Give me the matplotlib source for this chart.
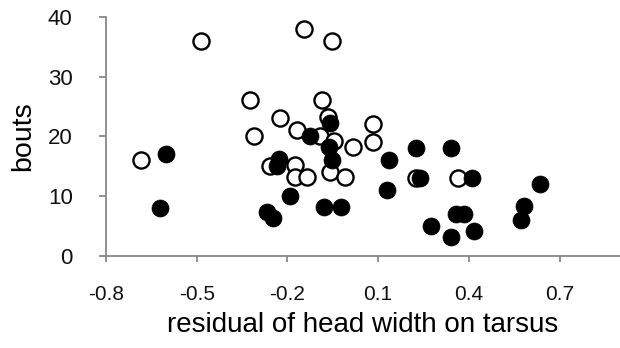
import matplotlib
matplotlib.use("Agg")
import matplotlib.pyplot as plt

plt.rcParams['font.family'] = ['Liberation Sans', 'DejaVu Sans']

# open circles
open_x = [-0.683, -0.485, -0.323, -0.31, -0.224, -0.257, -0.174, -0.174, -0.167, -0.144,
          -0.135, -0.086, -0.066, -0.091, -0.052, -0.045, -0.058, -0.011, 0.016, 0.082,
          0.082, 0.225, 0.363]
open_y = [16, 36, 26, 20, 23, 15, 15.2, 13.2, 21, 38,
          13.2, 26, 23.3, 20, 36, 19.2, 14, 13.2, 18.2, 22,
          19.1, 13, 13]

# filled circles
filled_x = [-0.62, -0.6, -0.268, -0.248, -0.235, -0.227, -0.19, -0.125, -0.078, -0.058,
            -0.062, -0.053, -0.022, 0.13, 0.135, 0.226, 0.238, 0.275, 0.34, 0.34,
            0.356, 0.383, 0.41, 0.418, 0.571, 0.582, 0.635]
filled_y = [8, 17, 7.3, 6.4, 15, 16.2, 10, 20, 8.2, 22.2,
            18.2, 16, 8.2, 11, 16, 18, 13, 5, 18, 3.2,
            7.1, 7.1, 13, 4.2, 6, 8.3, 12]

xticks = [-0.8, -0.5, -0.2, 0.1, 0.4, 0.7]
yticks = [0, 10, 20, 30, 40]

fig = plt.figure(figsize=(6.2, 3.48), dpi=100)
ax = fig.add_axes([0.171, 0.2644, 0.829, 0.6876])

ax.scatter(open_x, open_y, s=135, facecolors='white', edgecolors='black', linewidths=1.7, zorder=3)
ax.scatter(filled_x, filled_y, s=150, facecolors='black', edgecolors='black', linewidths=0.5, zorder=4)

ax.set_xlim(-0.8, 0.9)
ax.set_ylim(0, 40)
ax.set_xticks(xticks)
ax.set_xticklabels(['%.1f' % t for t in xticks])
ax.set_yticks(yticks)

for side in ['top', 'right']:
    ax.spines[side].set_visible(False)
for side in ['left', 'bottom']:
    ax.spines[side].set_color('#888888')
    ax.spines[side].set_linewidth(1.3)
    ax.spines[side].set_zorder(2)

ax.tick_params(axis='both', direction='out', color='#888888', width=1.3,
               labelsize=15, labelcolor='#111111')
ax.tick_params(axis='y', length=5, pad=19, labelsize=16)
ax.tick_params(axis='x', length=4, pad=17)

ax.set_xlabel('residual of head width on tarsus', fontsize=20, labelpad=6)
ax.set_ylabel('bouts', fontsize=20.5, labelpad=8)

fig.savefig('out.png', dpi=100)
